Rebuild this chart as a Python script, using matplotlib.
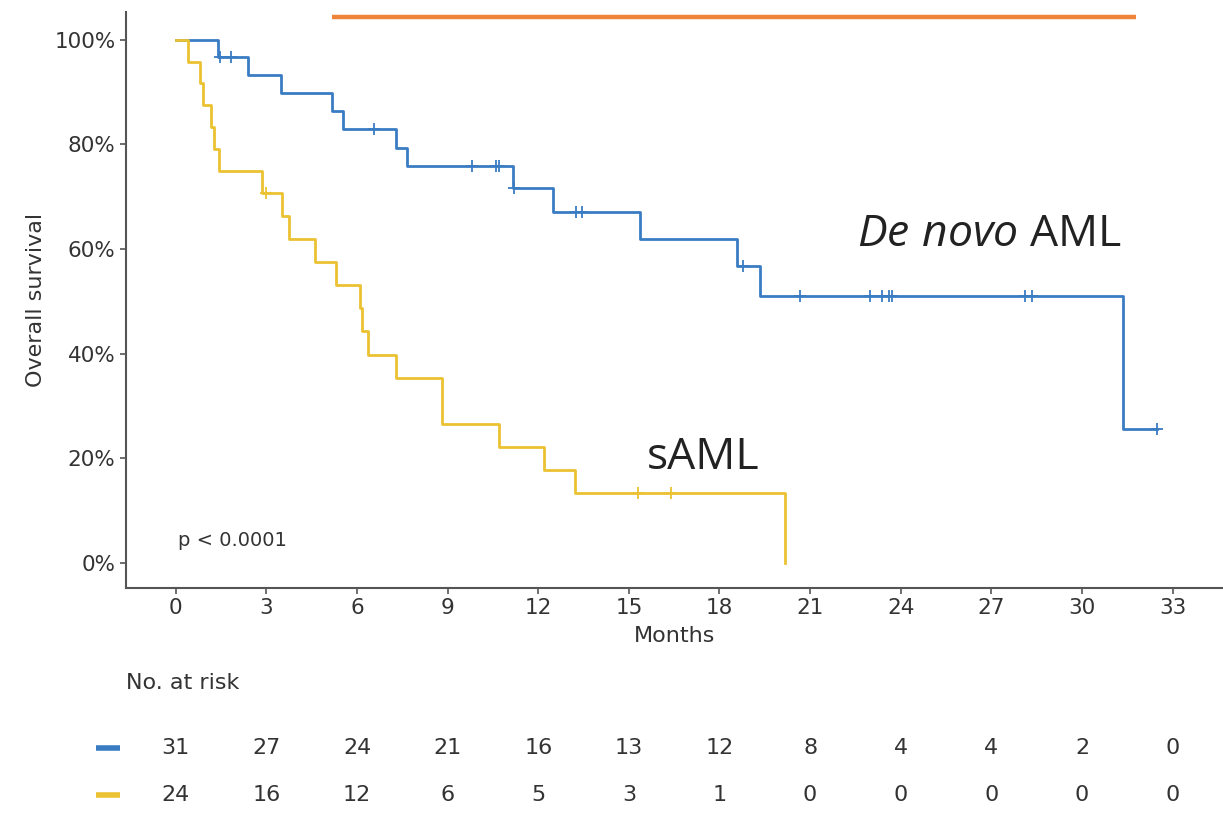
import matplotlib
matplotlib.use("Agg")
import matplotlib.pyplot as plt
from matplotlib.ticker import PercentFormatter
from matplotlib.transforms import blended_transform_factory

plt.rcParams['font.family'] = ['DejaVu Sans']
plt.rcParams['mathtext.fontset'] = 'custom'
plt.rcParams['mathtext.rm'] = 'Open Sans'
plt.rcParams['mathtext.it'] = 'Open Sans:italic'

# De novo AML: event times (months) and survival after each step
denovo_t = [0, 1.39, 2.38, 3.48, 5.17, 5.53, 7.28, 7.65, 11.16, 12.5, 15.36, 18.58, 19.34, 31.36]
denovo_s = [1.0, 0.968, 0.933, 0.899, 0.864, 0.830, 0.794, 0.758, 0.716, 0.671, 0.620, 0.568, 0.511, 0.256]
denovo_end = 32.48
denovo_cens = [1.46, 1.82, 6.56, 9.8, 10.6, 10.7, 11.2, 13.25, 13.45, 18.78,
               20.66, 22.98, 23.38, 23.6, 23.7, 28.1, 28.35, 32.48]

# sAML
saml_t = [0, 0.40, 0.79, 0.89, 1.16, 1.26, 1.42, 2.85, 3.51, 3.74, 4.60, 5.30,
          6.09, 6.16, 6.36, 7.30, 8.80, 8.82, 10.7, 12.2, 13.2, 20.17]
saml_s = [1.0, 0.958, 0.917, 0.875, 0.833, 0.792, 0.750, 0.708, 0.664, 0.619, 0.575, 0.531,
          0.487, 0.443, 0.398, 0.354, 0.310, 0.266, 0.221, 0.177, 0.133, 0.0]
saml_end = 20.17
saml_cens = [2.98, 15.3, 16.4]

risk_times = [0, 3, 6, 9, 12, 15, 18, 21, 24, 27, 30, 33]
risk_denovo = [31, 27, 24, 21, 16, 13, 12, 8, 4, 4, 2, 0]
risk_saml = [24, 16, 12, 6, 5, 3, 1, 0, 0, 0, 0, 0]

blue = '#3a7cc3'
yellow = '#ebc232'
orange = '#f0833a'
txt = '#333333'


def step_value(times, surv, x):
    v = surv[0]
    for t, s in zip(times, surv):
        if t <= x:
            v = s
    return v


def draw_km(ax, times, surv, end, cens, color):
    xs = list(times) + [end]
    ys = list(surv) + [surv[-1]]
    ax.step(xs, ys, where='post', color=color, lw=2.0, zorder=3)
    cy = [step_value(times, surv, c) for c in cens]
    ax.plot(cens, cy, ls='none', marker='+', ms=8, mew=1.3, color=color, zorder=4)


fig = plt.figure(figsize=(12.23, 8.35), dpi=100)
ax = fig.add_axes([0.103, 0.296, 0.897, 0.690])

draw_km(ax, denovo_t, denovo_s, denovo_end, denovo_cens, blue)
draw_km(ax, saml_t, saml_s, saml_end, saml_cens, yellow)

# bar across the top
ax.plot([5.17, 31.8], [1.043, 1.043], color=orange, lw=3.2, solid_capstyle='butt', clip_on=False)

ax.set_xlim(-1.65, 34.67)
ax.set_ylim(-0.048, 1.054)
ax.set_xticks(risk_times)
ax.set_yticks([0, 0.2, 0.4, 0.6, 0.8, 1.0])
ax.yaxis.set_major_formatter(PercentFormatter(1.0, decimals=0))
ax.tick_params(labelsize=15.5, colors=txt, length=4, width=1.2)
ax.tick_params(axis='both', color='#555555')
for side in ['top', 'right']:
    ax.spines[side].set_visible(False)
for side in ['left', 'bottom']:
    ax.spines[side].set_color('#555555')
    ax.spines[side].set_linewidth(1.5)

ax.set_xlabel('Months', fontsize=16, color=txt)
ax.set_ylabel('Overall survival', fontsize=16, color=txt)
ax.xaxis.set_label_coords(0.5, -0.067)
ax.yaxis.set_label_coords(-0.073, 0.5)

ax.text(0.07, 0.032, 'p < 0.0001', fontsize=14, color=txt, va='baseline')
ax.text(22.55, 0.605, r'$\it{De\ novo}$ AML', fontsize=32, color='#222222', va='baseline',
        fontfamily='Open Sans')
ax.text(15.6, 0.179, 'sAML', fontsize=32, color='#222222', va='baseline', fontfamily='Open Sans')

# number at risk table
tr = blended_transform_factory(ax.transData, fig.transFigure)
fig.text(0.103, 0.182, 'No. at risk', fontsize=16, color=txt, va='center')
for row_y, counts, color in [(0.104, risk_denovo, blue), (0.048, risk_saml, yellow)]:
    ax.plot([-2.65, -1.85], [row_y, row_y], color=color, lw=4, transform=tr, clip_on=False,
            solid_capstyle='butt')
    for t, n in zip(risk_times, counts):
        ax.text(t, row_y, str(n), transform=tr, fontsize=16, color=txt, ha='center', va='center')

fig.savefig('out.png', dpi=100)
